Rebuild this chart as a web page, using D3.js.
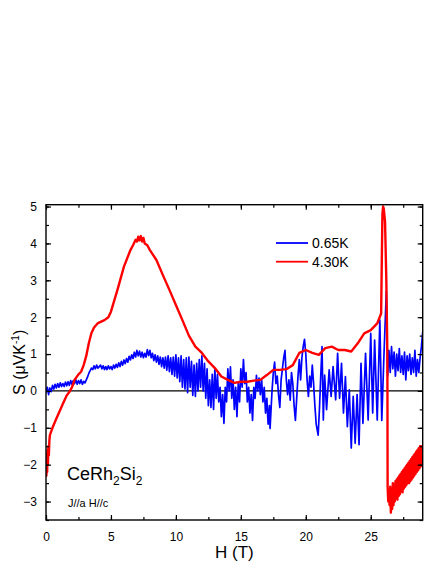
<!DOCTYPE html>
<html><head><meta charset="utf-8">
<script src="https://cdn.jsdelivr.net/npm/d3@7"></script>
<style>body{margin:0;background:#fff}svg{display:block}text{font-family:Arial,"Liberation Sans",sans-serif}</style>
</head><body><svg id="c" width="436" height="564"></svg>
<script>
const xTicks = [0, 5, 10, 15, 20, 25];
const yTicks = [-3, -2, -1, 0, 1, 2, 3, 4, 5];
const seriesNames = ["0.65K", "4.30K"];
const seriesColors = ["#0000ff", "#ff0000"];

// S (uV/K) vs H (T), 0.65 K
const blue065K = [[0,-0.05],[0.1,0.1],[0.2,-0.1],[0.3,0.08],[0.4,-0.02],[0.5,0.15],[0.6,0.05],[0.7,0.18],[0.8,0.08],[0.9,0.2],[1.0,0.1],[1.1,0.22],[1.2,0.12],[1.3,0.2],[1.4,0.12],[1.5,0.24],[1.6,0.14],[1.7,0.25],[1.8,0.15],[1.9,0.28],[2.0,0.18],[2.1,0.28],[2.2,0.2],[2.3,0.3],[2.4,0.18],[2.5,0.28],[2.6,0.2],[2.7,0.3],[2.8,0.18],[2.9,0.26],[3.0,0.22],[3.1,0.3],[3.2,0.38],[3.3,0.48],[3.4,0.55],[3.5,0.62],[3.6,0.58],[3.7,0.68],[3.8,0.6],[3.9,0.7],[4.0,0.62],[4.2,0.7],[4.3,0.6],[4.4,0.68],[4.5,0.58],[4.6,0.66],[4.7,0.58],[4.8,0.68],[4.9,0.6],[5.0,0.66],[5.1,0.58],[5.2,0.7],[5.3,0.62],[5.4,0.72],[5.5,0.64],[5.6,0.76],[5.7,0.66],[5.8,0.8],[5.9,0.7],[6.0,0.84],[6.1,0.74],[6.2,0.88],[6.3,0.78],[6.4,0.94],[6.5,0.84],[6.6,0.98],[6.7,0.88],[6.8,1.05],[6.9,0.92],[7.0,1.1],[7.1,0.95],[7.2,1.08],[7.3,0.92],[7.4,1.05],[7.5,0.9],[7.6,1.02],[7.7,0.92],[7.8,1.12],[7.9,0.96],[8.0,1.1],[8.1,0.9],[8.2,1.02],[8.3,0.82],[8.4,0.98],[8.5,0.78],[8.6,0.95],[8.7,0.72],[8.8,0.92],[8.9,0.66],[9.0,0.9],[9.1,0.62],[9.2,0.92],[9.3,0.56],[9.4,0.95],[9.5,0.52],[9.6,0.9],[9.7,0.45],[9.8,0.92],[9.9,0.4],[10.0,0.98],[10.1,0.35],[10.2,0.9],[10.3,0.25],[10.4,0.95],[10.5,0.1],[10.6,0.85],[10.7,0.05],[10.8,0.9],[10.9,-0.05],[11.0,0.92],[11.1,0.1],[11.2,0.8],[11.3,-0.12],[11.4,0.7],[11.5,-0.15],[11.6,0.75],[11.7,0.0],[11.8,0.85],[11.9,0.1],[12.0,0.95],[12.1,0.0],[12.2,0.75],[12.3,-0.2],[12.4,0.6],[12.5,-0.4],[12.6,0.3],[12.7,-0.45],[12.8,0.45],[12.9,-0.5],[13.0,0.6],[13.1,-0.2],[13.2,0.45],[13.3,-0.3],[13.4,0.1],[13.5,-0.7],[13.6,-0.1],[13.7,-0.88],[13.8,0.1],[13.9,-0.3],[14.0,0.6],[14.1,0.0],[14.2,0.65],[14.3,-0.2],[14.4,0.3],[14.5,-0.5],[14.6,0.1],[14.7,-0.7],[14.8,0.2],[14.9,-0.3],[15.0,0.6],[15.1,0.1],[15.2,0.85],[15.3,0.2],[15.4,0.5],[15.5,-0.3],[15.6,0.1],[15.7,-0.6],[15.8,-0.1],[15.9,-0.8],[16.0,0.1],[16.1,-0.2],[16.2,0.42],[16.3,0.0],[16.4,0.35],[16.5,-0.1],[16.6,0.3],[16.7,-0.3],[16.8,0.1],[16.9,-0.6],[17.0,-0.2],[17.1,-0.9],[17.2,-0.4],[17.25,-1.02],[17.4,0.0],[17.5,0.5],[17.6,0.78],[17.7,0.2],[17.8,0.4],[17.9,-0.1],[18.0,-0.45],[18.1,0.3],[18.2,0.6],[18.3,0.9],[18.4,1.1],[18.5,0.3],[18.6,-0.1],[18.7,0.3],[18.8,-0.25],[18.9,0.5],[19.0,0.2],[19.1,-0.4],[19.2,-0.8],[19.3,-0.2],[19.4,0.4],[19.5,0.85],[19.6,0.3],[19.7,0.9],[19.8,1.2],[19.9,1.4],[20.0,1.0],[20.1,0.3],[20.2,-0.15],[20.3,0.4],[20.4,0.1],[20.5,0.7],[20.6,0.2],[20.7,-0.4],[20.8,-0.9],[20.95,-1.2],[21.05,-0.5],[21.15,0.4],[21.25,1.2],[21.3,0.2],[21.35,-0.79],[21.45,0.43],[21.6,-0.51],[21.8,0.57],[21.95,-0.15],[22.1,0.66],[22.3,-0.24],[22.45,1.02],[22.6,-0.2],[22.75,0.75],[22.9,-0.6],[23.05,0.39],[23.2,-0.97],[23.35,0.03],[23.5,-1.55],[23.65,-0.15],[23.8,-1.42],[23.95,-0.1],[24.1,-1.46],[24.25,0.75],[24.4,-0.88],[24.6,1.02],[24.8,-0.79],[25.0,1.56],[25.15,-0.6],[25.3,1.38],[25.5,-0.79],[25.7,1.92],[25.85,-0.8],[26.0,0.8],[26.2,2.7],[26.3,0.4],[26.4,1.1],[26.5,0.5],[26.6,1.2],[26.7,0.6],[26.8,1.05],[26.9,0.4],[27.0,1.0],[27.1,0.55],[27.2,1.15],[27.3,0.5],[27.4,0.95],[27.5,0.45],[27.6,1.05],[27.7,0.3],[27.8,0.95],[27.9,0.55],[28.0,1.0],[28.1,0.45],[28.2,0.9],[28.3,0.5],[28.4,1.1],[28.5,0.4],[28.6,0.85],[28.7,0.5],[28.8,0.9],[28.9,1.2],[29.0,1.6]];

// S (uV/K) vs H (T), 4.30 K
const red430K = [[0,-1.9],[0.03,-2.3],[0.06,-1.7],[0.09,-2.2],[0.12,-1.6],[0.15,-2.0],[0.18,-1.5],[0.22,-1.75],[0.26,-1.35],[0.3,-1.2],[0.5,-1.0],[0.8,-0.75],[1.05,-0.55],[1.3,-0.35],[1.6,-0.12],[1.85,0.0],[2.0,0.1],[2.2,0.3],[2.5,0.45],[2.7,0.52],[2.9,0.7],[3.1,0.95],[3.3,1.3],[3.5,1.57],[3.7,1.72],[4.0,1.84],[4.5,1.92],[4.8,2.0],[5.0,2.15],[5.5,2.74],[6.0,3.37],[6.5,3.82],[6.7,3.95],[6.9,4.1],[7.0,4.05],[7.1,4.18],[7.2,4.08],[7.3,4.2],[7.4,4.05],[7.5,4.15],[7.6,4.0],[7.8,3.95],[8.0,3.82],[8.5,3.55],[9.0,3.14],[9.5,2.74],[10.0,2.33],[10.5,1.92],[11.0,1.5],[11.5,1.2],[12.0,1.03],[12.5,0.8],[13.0,0.62],[13.5,0.39],[14.0,0.3],[14.5,0.22],[15.0,0.25],[15.5,0.25],[16.0,0.28],[16.5,0.3],[17.0,0.43],[17.5,0.57],[18.0,0.57],[18.5,0.59],[19.0,0.7],[19.5,1.03],[20.0,1.11],[20.5,1.03],[21.0,0.98],[21.5,1.16],[22.0,1.2],[22.5,1.11],[23.0,1.11],[23.5,1.07],[24.0,1.29],[24.5,1.56],[25.0,1.65],[25.5,1.83],[25.8,2.1],[25.85,3.5],[25.9,4.8],[25.95,5.0],[26.0,4.95],[26.1,4.6],[26.2,3.0],[26.28,1.0],[26.3,-2.6],[26.35,-3.0],[26.4,-2.7],[26.45,-3.1],[26.5,-2.6],[26.55,-3.3],[26.6,-2.7],[26.65,-3.2],[26.7,-2.5],[26.75,-3.1],[26.8,-2.6],[26.85,-3.0],[26.9,-2.45],[26.95,-2.9],[27.0,-2.4],[27.05,-2.95],[27.1,-2.35],[27.15,-2.85],[27.2,-2.3],[27.25,-2.8],[27.3,-2.25],[27.35,-2.7],[27.4,-2.2],[27.45,-2.75],[27.5,-2.15],[27.55,-2.65],[27.6,-2.1],[27.65,-2.6],[27.7,-2.05],[27.75,-2.55],[27.8,-2.0],[27.85,-2.5],[27.9,-1.95],[27.95,-2.5],[28.0,-1.9],[28.05,-2.45],[28.1,-1.85],[28.15,-2.4],[28.2,-1.8],[28.25,-2.35],[28.3,-1.75],[28.35,-2.3],[28.4,-1.7],[28.45,-2.25],[28.5,-1.65],[28.55,-2.2],[28.6,-1.6],[28.65,-2.15],[28.7,-1.55],[28.75,-2.1],[28.8,-1.5],[28.85,-2.05],[28.9,-1.5],[28.95,-2.0],[29.0,-1.55]];

const svg = d3.select("#c");
const L = 46, R = 422.7, T = 204.7, B = 520;
const x = d3.scaleLinear().domain([0, 29]).range([L, R]);
const y = d3.scaleLinear().domain([-3.5, 5.05]).range([B, T]);

svg.append("defs").append("clipPath").attr("id","pc")
  .append("rect").attr("x", L).attr("y", T).attr("width", R-L).attr("height", B-T);

const plot = svg.append("g").attr("clip-path","url(#pc)");
plot.append("line").attr("x1", L).attr("x2", R).attr("y1", y(0)).attr("y2", y(0))
  .attr("stroke","#000").attr("stroke-width",1.2);

const line = d3.line().x(d => x(d[0])).y(d => y(d[1]));
plot.append("path").datum(blue065K).attr("d", line).attr("fill","none")
  .attr("stroke", seriesColors[0]).attr("stroke-width",1.7).attr("stroke-linejoin","round");
plot.append("path").datum(red430K).attr("d", line).attr("fill","none")
  .attr("stroke", seriesColors[1]).attr("stroke-width",2.4).attr("stroke-linejoin","round");

const xMinor = d3.range(0, 29.01, 2.5);
const yMinor = d3.range(-3.5, 5.01, 0.5);
function axisG(tr, gen) {
  const g = svg.append("g").attr("transform", tr).call(gen);
  g.select(".domain").remove();
  return g;
}
axisG(`translate(0,${B})`, d3.axisBottom(x).tickValues(xMinor).tickSize(-3).tickFormat(""));
const bottomMaj = axisG(`translate(0,${B})`, d3.axisBottom(x).tickValues(xTicks).tickSize(-5).tickPadding(12).tickFormat(d3.format("d")));
bottomMaj.selectAll("text").attr("font-size",12).attr("fill","#000");
axisG(`translate(0,${T})`, d3.axisTop(x).tickValues(xMinor).tickSize(-3).tickFormat(""));
axisG(`translate(0,${T})`, d3.axisTop(x).tickValues(xTicks).tickSize(-5).tickFormat(""));
axisG(`translate(${L},0)`, d3.axisLeft(y).tickValues(yMinor).tickSize(-3).tickFormat(""));
const leftMaj = axisG(`translate(${L},0)`, d3.axisLeft(y).tickValues(yTicks).tickSize(-5).tickPadding(9).tickFormat(d3.format("d")));
leftMaj.selectAll("text").attr("font-size",12).attr("fill","#000");
axisG(`translate(${R},0)`, d3.axisRight(y).tickValues(yMinor).tickSize(-3).tickFormat(""));
axisG(`translate(${R},0)`, d3.axisRight(y).tickValues(yTicks).tickSize(-5).tickFormat(""));

svg.selectAll(".tick line").attr("stroke","#000").attr("stroke-width",1.2);

svg.append("rect").attr("x",L).attr("y",T).attr("width",R-L).attr("height",B-T)
  .attr("fill","none").attr("stroke","#000").attr("stroke-width",1.4);

svg.append("text").attr("x", (L+R)/2).attr("y", 558).attr("text-anchor","middle")
  .attr("font-size",17).text("H (T)");
const yl = svg.append("text").attr("transform",`translate(25,${(T+B)/2}) rotate(-90)`)
  .attr("text-anchor","middle").attr("font-size",16);
yl.append("tspan").text("S (\u03bcVK");
yl.append("tspan").attr("font-size",10).attr("dy",-6).text("-1");
yl.append("tspan").attr("dy",6).text(")");

const lg = svg.append("g");
seriesNames.forEach((n,i) => {
  const yy = 243 + i*18.7;
  lg.append("line").attr("x1",276).attr("x2",308).attr("y1",yy).attr("y2",yy)
    .attr("stroke",seriesColors[i]).attr("stroke-width",1.8);
  lg.append("text").attr("x",312).attr("y",yy+5).attr("font-size",14).text(n);
});

const t1 = svg.append("text").attr("x",67).attr("y",480).attr("font-size",18);
t1.append("tspan").text("CeRh");
t1.append("tspan").attr("font-size",12).attr("dy",5).text("2");
t1.append("tspan").attr("dy",-5).text("Si");
t1.append("tspan").attr("font-size",12).attr("dy",5).text("2");
svg.append("text").attr("x",68).attr("y",507).attr("font-size",11).text("J//a H//c");
</script></body></html>
